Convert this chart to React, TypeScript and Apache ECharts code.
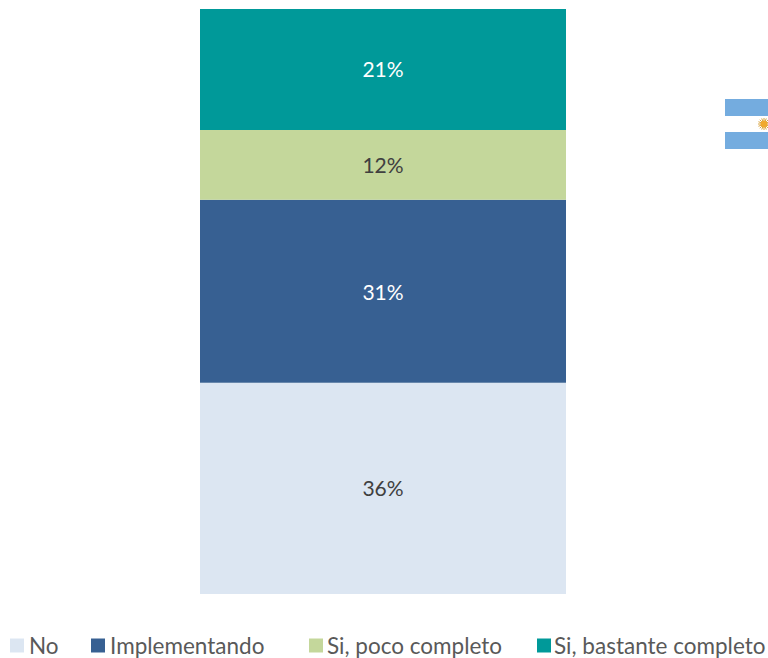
import React, { useEffect, useRef } from "react";
import * as echarts from "echarts";

const categories = ["Argentina"];
const seriesNames = ["No", "Implementando", "Si, poco completo", "Si, bastante completo"];
const noValues = [36.1];
const implementandoValues = [31.3];
const pocoValues = [11.9];
const bastanteValues = [20.7];
const seriesValues = [noValues, implementandoValues, pocoValues, bastanteValues];
const colors = ["#DCE6F2", "#376092", "#C4D79B", "#009999"];
const labelColors = ["#404040", "#FFFFFF", "#404040", "#FFFFFF"];
const labelShiftY = [-1, 0, 0, -1];
const legendLefts = [10, 91, 309, 537];
const legendTextShift = [0, 0, -1, -2];
const FONT = "Lato";

export default function App() {
  const ref = useRef<HTMLDivElement>(null);
  useEffect(() => {
    const chart = echarts.init(ref.current!, null, { renderer: "svg" });
    const sunRays = Array.from({ length: 16 }, (_, i) => {
      const a = (i / 16) * Math.PI * 2;
      return {
        type: "line",
        shape: {
          x1: 764 + Math.cos(a) * 3,
          y1: 124 + Math.sin(a) * 3,
          x2: 764 + Math.cos(a) * 6,
          y2: 124 + Math.sin(a) * 6,
        },
        style: { stroke: "#D9A441", lineWidth: 1 },
      };
    });
    chart.setOption({
      animation: false,
      textStyle: { fontFamily: FONT },
      grid: { left: 200, top: 9, width: 366, height: 585 },
      xAxis: { type: "category", data: categories, show: false },
      yAxis: { type: "value", min: 0, max: 100, show: false },
      legend: seriesNames.map((name, i) => ({
        data: [name],
        left: legendLefts[i],
        top: 634,
        width: 260,
        padding: 0,
        itemWidth: 14,
        itemHeight: 14,
        itemGap: 0,
        icon: "rect",
        textStyle: {
          fontFamily: FONT,
          fontSize: 22.5,
          color: "#595959",
          padding: [0, 0, 0, legendTextShift[i]],
        },
      })),
      series: seriesNames.map((name, i) => ({
        name,
        type: "bar",
        stack: "total",
        barWidth: 366,
        data: seriesValues[i],
        itemStyle: { color: colors[i] },
        label: {
          show: true,
          position: "inside",
          offset: [0, labelShiftY[i]],
          fontFamily: FONT,
          fontSize: 21,
          color: labelColors[i],
          formatter: (p: any) => Math.round(p.value) + "%",
        },
      })),
      graphic: [
        { type: "rect", shape: { x: 725, y: 99, width: 43, height: 17 }, style: { fill: "#74ACDF" } },
        { type: "rect", shape: { x: 725, y: 132, width: 43, height: 17 }, style: { fill: "#74ACDF" } },
        ...sunRays,
        { type: "circle", shape: { cx: 764, cy: 124, r: 3.5 }, style: { fill: "#F0A92E" } },
      ],
    });
    return () => chart.dispose();
  }, []);
  return <div ref={ref} style={{ position: "absolute", left: 0, top: 0, width: 768, height: 658 }} />;
}
